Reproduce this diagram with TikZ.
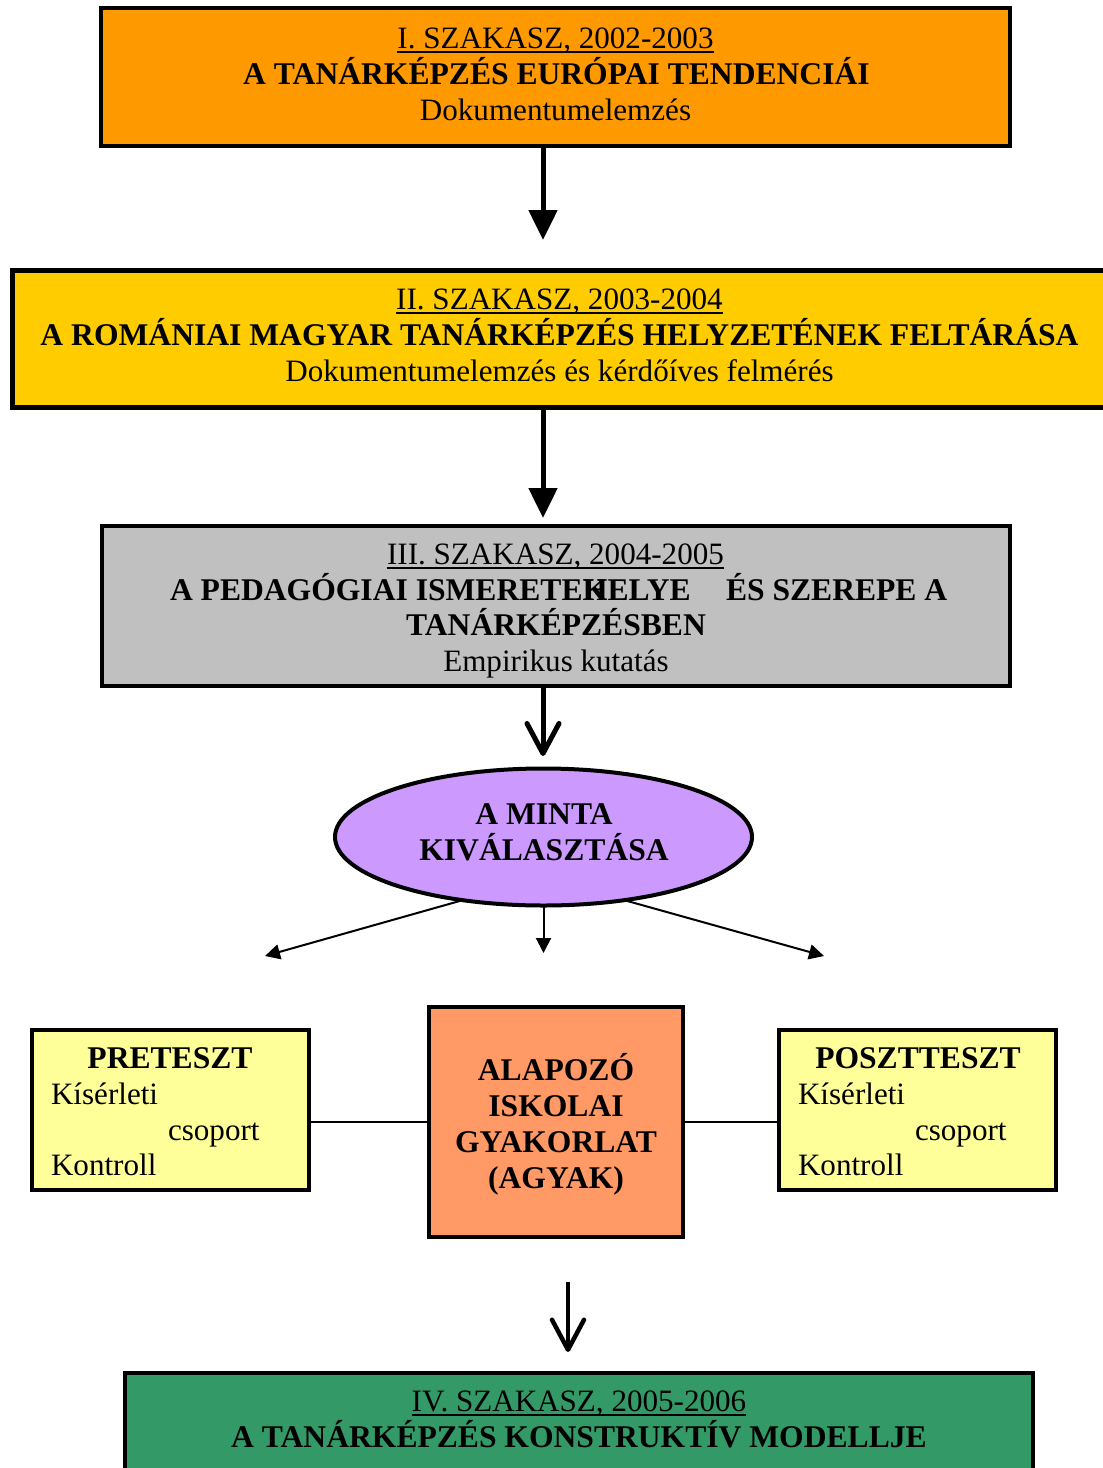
\documentclass[tikz,border=0pt]{standalone}
\usepackage{fontspec}
\setmainfont{Liberation Serif}
\usetikzlibrary{arrows.meta,shapes.geometric}
\definecolor{cOrange}{HTML}{FF9900}
\definecolor{cYellow}{HTML}{FFCC00}
\definecolor{cGray}{HTML}{C0C0C0}
\definecolor{cLilac}{HTML}{CC99FF}
\definecolor{cPale}{HTML}{FFFF99}
\definecolor{cSalmon}{HTML}{FF9966}
\definecolor{cGreen}{HTML}{339966}
\begin{document}
\begin{tikzpicture}[x=1pt,y=-1pt,
  font=\fontsize{31.1}{36}\selectfont,
  box/.style={rectangle,draw=black,line width=4pt,inner sep=0pt,outer sep=0pt},
  lbl/.style={inner sep=0pt,outer sep=0pt,anchor=base},
  lblw/.style={inner sep=0pt,outer sep=0pt,anchor=base west},
  bold/.style={font=\fontsize{31.6}{36}\selectfont\bfseries},
  ulline/.style={line width=1.8pt},
  bigarrow/.style={line width=5pt,-{Triangle[width=28pt,length=30pt]}},
  varrow/.style={line width=5pt,-{Straight Barb[width=32pt,length=30pt,round]}},
  thinarrow/.style={line width=2pt,-{Triangle[width=15pt,length=15pt]}},
  link/.style={line width=2pt}]
\useasboundingbox (0,0) rectangle (1103,1468);
\fill[white] (0,0) rectangle (1103,1468);
\clip (0,0) rectangle (1103,1468);

% boxes
\node[box,fill=cOrange,minimum width=909,minimum height=138] (b1) at (555.5,77) {};
\node[box,fill=cYellow,minimum width=1108,minimum height=137,line width=5pt] (b2) at (566,338.5) {};
\node[box,fill=cGray,minimum width=908,minimum height=160,line width=3.5pt] (b3) at (556,606) {};
\node[ellipse,draw=black,line width=4pt,fill=cLilac,minimum width=417,minimum height=137,inner sep=0pt,outer sep=0pt] (ell) at (543.5,837) {};
\node[box,fill=cPale,minimum width=277,minimum height=160,line width=3.5pt] (pre) at (170.5,1110) {};
\node[box,fill=cSalmon,minimum width=254,minimum height=230,line width=3.5pt] (agy) at (556,1122) {};
\node[box,fill=cPale,minimum width=277,minimum height=160,line width=3.5pt] (post) at (917.5,1110) {};
\node[box,fill=cGreen,minimum width=908,minimum height=117] (b4) at (579,1431.5) {};

% texts box 1
\node[lbl] (t1a) at (555.5,48) {I. SZAKASZ, 2002-2003};
\draw[ulline] ([yshift=-4pt]t1a.base west) -- ([yshift=-4pt]t1a.base east);
\node[lbl,bold] (t1b) at (556.5,84) {A TANÁRKÉPZÉS EURÓPAI TENDENCIÁI};
\node[lbl] (t1c) at (555.5,120) {Dokumentumelemzés};

% texts box 2
\node[lbl] (t2a) at (559.5,309) {II. SZAKASZ, 2003-2004};
\draw[ulline] ([yshift=-4pt]t2a.base west) -- ([yshift=-4pt]t2a.base east);
\node[lbl,bold] (t2b) at (559.5,345) {A ROMÁNIAI MAGYAR TANÁRKÉPZÉS HELYZETÉNEK FELTÁRÁSA};
\node[lbl] (t2c) at (559.5,381) {Dokumentumelemzés és kérdőíves felmérés};

% texts box 3
\node[lbl] (t3a) at (555.5,564) {III. SZAKASZ, 2004-2005};
\draw[ulline] ([yshift=-4pt]t3a.base west) -- ([yshift=-4pt]t3a.base east);
\node[lblw,bold] (t3b1) at (170,600) {A PEDAGÓGIAI ISMERETEK};
\node[lblw,bold] (t3b2) at (583,600) {HELYE};
\node[lblw,bold] (t3b3) at (726,600) {ÉS SZEREPE A};
\node[lbl,bold] (t3c) at (556,635) {TANÁRKÉPZÉSBEN};
\node[lbl] (t3d) at (556,671) {Empirikus kutatás};

% ellipse text
\node[lbl,bold] (te1) at (544,824) {A MINTA};
\node[lbl,bold] (te2) at (544,860) {KIVÁLASZTÁSA};

% pre texts
\node[lbl,bold] (tp1) at (170,1068) {PRETESZT};
\node[lblw] (tp2) at (51,1104) {Kísérleti};
\node[lblw] (tp3) at (168,1140) {csoport};
\node[lblw] (tp4) at (51,1175) {Kontroll};

% agy texts
\node[lbl,bold] (ta1) at (556,1080) {ALAPOZÓ};
\node[lbl,bold] (ta2) at (556,1116) {ISKOLAI};
\node[lbl,bold] (ta3) at (556,1152) {GYAKORLAT};
\node[lbl,bold] (ta4) at (556,1188) {(AGYAK)};

% post texts
\node[lbl,bold] (tq1) at (918,1068) {POSZTTESZT};
\node[lblw] (tq2) at (798,1104) {Kísérleti};
\node[lblw] (tq3) at (915,1140) {csoport};
\node[lblw] (tq4) at (798,1175) {Kontroll};

% box 4 texts
\node[lbl] (t4a) at (579,1411) {IV. SZAKASZ, 2005-2006};
\draw[ulline] ([yshift=-4pt]t4a.base west) -- ([yshift=-4pt]t4a.base east);
\node[lbl,bold] (t4b) at (579,1447) {A TANÁRKÉPZÉS KONSTRUKTÍV MODELLJE};

% connectors
\coordinate (a1e) at (543,240);
\coordinate (a2e) at (543,518);
\coordinate (a3e) at (543,756);
\coordinate (a4e) at (568,1352);
\coordinate (l1e) at (265,956);
\coordinate (l2e) at (543.5,953);
\coordinate (l3e) at (824,956);

\draw[bigarrow] (b1.south -| a1e) -- (a1e);
\draw[bigarrow] (b2.south -| a2e) -- (a2e);
\draw[varrow] (b3.south -| a3e) -- (a3e);
\draw[varrow,line width=4.5pt,shorten <=45pt] (agy.south -| a4e) -- (a4e);

\draw[thinarrow] (ell.218) -- (l1e);
\draw[thinarrow] (ell.south) -- (l2e);
\draw[thinarrow] (ell.322) -- (l3e);

\draw[link] (pre.east |- agy.west) -- (agy.west);
\draw[link] (agy.east) -- (post.west |- agy.east);
\end{tikzpicture}
\end{document}
